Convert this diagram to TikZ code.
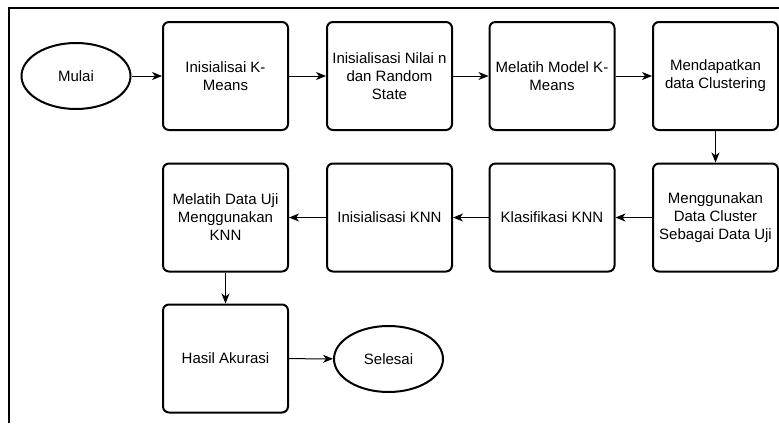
\documentclass[tikz,border=0pt]{standalone}
\usepackage{fontspec}
\setmainfont{Liberation Sans}
\usetikzlibrary{shapes.geometric,arrows.meta}

\begin{document}
\begin{tikzpicture}[
x=1pt, y=-1pt,
font=\fontsize{15}{18}\selectfont,
stepbox/.style={rectangle, draw=black, line width=2pt, rounded corners=6pt, minimum width=125pt, minimum height=108pt, align=center, inner sep=2pt},
terminal/.style={ellipse, draw=black, line width=2pt, minimum width=109pt, minimum height=66pt, inner sep=1pt},
flow/.style={-{Stealth[length=10pt,width=8pt,inset=3pt]}, line width=1pt}
]
        \useasboundingbox (0,0) rectangle (779,423);
        % frame
        \draw[line width=1.5pt] (779,8) -- (9,8) -- (9,423);

        \node [terminal] (mulai) at (76, 76) {Mulai};

        \node [stepbox] (kmeans) at (225.5, 76) {Inisialisai K-\\Means};
        \node [stepbox] (nilai) at (389.5, 76) {Inisialisasi Nilai n\\dan Random\\State};
        \node [stepbox] (latih) at (552, 76) {Melatih Model K-\\Means};
        \node [stepbox] (cluster) at (715.5, 76) {Mendapatkan\\data Clustering};

        \node [stepbox] (ujidata) at (715.5, 217.5) {Menggunakan\\Data Cluster\\Sebagai Data Uji};
        \node [stepbox] (klasif) at (552, 217.5) {Klasifikasi KNN};
        \node [stepbox] (knn) at (389.5, 217.5) {Inisialisasi KNN};
        \node [stepbox] (latihknn) at (225.5, 217.5) {Melatih Data Uji\\Menggunakan\\KNN};

        \node [stepbox] (akurasi) at (225.5, 358.5) {Hasil Akurasi};
        \node [terminal] (selesai) at (388.5, 359) {Selesai};

        \draw [flow] (mulai) -- (kmeans);
        \draw [flow] (kmeans) -- (nilai);
        \draw [flow] (nilai) -- (latih);
        \draw [flow] (latih) -- (cluster);
        \draw [flow] (cluster) -- (ujidata);
        \draw [flow] (ujidata) -- (klasif);
        \draw [flow] (klasif) -- (knn);
        \draw [flow] (knn) -- (latihknn);
        \draw [flow] (latihknn) -- (akurasi);
        \draw [flow] (akurasi) -- (selesai);

 \end{tikzpicture}
\end{document}
